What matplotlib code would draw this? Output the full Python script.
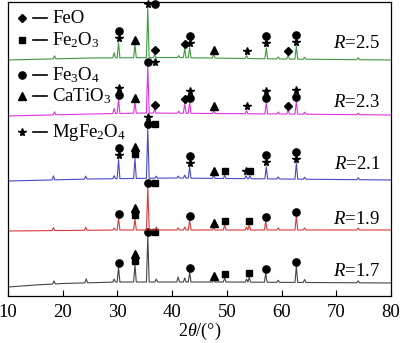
import numpy as np
import matplotlib
matplotlib.use('Agg')
import matplotlib.pyplot as plt

plt.rcParams['font.family'] = 'Liberation Serif'
plt.rcParams['mathtext.fontset'] = 'custom'
plt.rcParams['mathtext.rm'] = 'Liberation Serif'
plt.rcParams['mathtext.it'] = 'Liberation Serif:italic'

# background level of each pattern (2theta, offset intensity)
r17_bg_x = [10, 15, 20, 30, 50, 80]
r17_bg_y = [9, 11, 12.5, 14, 14, 13]
r19_bg_x = [10, 30, 80]
r19_bg_y = [65, 66, 66]
r21_bg_x = [10, 25, 40, 60, 80]
r21_bg_y = [115, 117, 118, 117, 116]
r23_bg_x = [10, 25, 35, 60, 80]
r23_bg_y = [180, 182, 183, 182, 181]
r25_bg_x = [10, 25, 40, 60, 80]
r25_bg_y = [236, 238, 238.5, 237, 236]

# peak positions and heights above background
r17_pk = [18.4, 24.3, 29.4, 30.2, 33.2, 35.55, 37.1, 41.1, 42.3, 43.2, 47.6, 49.6, 53.6, 54.1, 57.1, 59.4, 62.7, 64.2, 74.0]
r17_h = [3, 4, 3, 15, 17, 46, 3, 5, 4, 10, 2, 4, 3, 5, 9, 2, 16, 3, 2]
r19_pk = [18.3, 24.2, 29.4, 30.2, 33.2, 35.55, 37.1, 41.1, 42.3, 43.2, 47.6, 49.6, 53.6, 54.1, 57.1, 59.4, 62.7, 64.2, 74.0]
r19_h = [3, 3, 2, 12, 11, 43, 3, 2, 3, 10, 3, 5, 3, 5, 9, 2, 14, 2, 2]
r21_pk = [18.3, 24.2, 29.4, 30.2, 33.2, 35.55, 37.1, 41.1, 42.3, 43.2, 47.6, 49.6, 53.5, 54.2, 57.2, 59.4, 62.7, 64.2, 74.0]
r21_h = [4, 3, 3, 19, 20, 50, 2, 2, 3, 11, 3, 3, 3, 3, 12, 2, 16, 2, 2]
r23_pk = [18.5, 29.4, 30.2, 33.2, 35.55, 36.8, 41.2, 42.3, 43.2, 47.6, 53.6, 57.2, 59.4, 61.2, 62.7, 64.2, 74.0]
r23_h = [3, 5, 14, 11, 47, 4, 2, 10, 11, 3, 3, 11, 2, 4, 13, 2, 1.5]
r25_pk = [18.5, 29.4, 30.2, 33.2, 35.55, 36.8, 41.2, 42.3, 43.2, 47.6, 53.6, 57.2, 59.4, 61.2, 62.7, 64.2, 74.0]
r25_h = [3, 5, 15, 13, 49, 3, 2, 9, 10, 4, 3, 11, 2, 4, 13, 2, 2]

# phase marks: peak, stack (bottom to top), stack beside the peak
r17_marks = [(30.2, 'o', ''), (33.2, 's^', ''), (35.55, 'o', 's'), (43.2, 'o', ''), (47.6, '^', ''),
             (49.6, 's', ''), (54.1, 's', ''), (57.1, 'o', ''), (62.7, 'o', '')]
r19_marks = [(30.2, 'o', ''), (33.2, 's^', ''), (35.55, 'o', 's'), (43.2, 'o', ''), (47.6, '^', ''),
             (49.6, 's', ''), (54.1, 's', ''), (57.1, 'o', ''), (62.7, 'o', '')]
r21_marks = [(30.2, '*o', ''), (33.2, 's^', ''), (35.55, 'o*', 's'), (43.2, '*o', ''), (47.6, '^', ''),
             (49.6, 's', ''), (53.5, '*', ''), (54.2, 's', ''), (57.2, '*o', ''), (62.7, '*o', '')]
r23_marks = [(30.2, 'o*', ''), (33.2, '^', ''), (35.55, 'o', '*'), (36.8, 'D', ''), (42.3, 'D', ''),
             (43.2, 'o*', ''), (47.6, '^', ''), (53.6, '*', ''), (57.2, 'o*', ''), (61.2, 'D', ''), (62.7, 'o*', '')]
r25_marks = [(30.2, '*o', ''), (33.2, '^', ''), (35.55, '*', 'o'), (36.8, 'D', ''), (42.3, 'D', ''),
             (43.2, '*o', ''), (47.6, '^', ''), (53.6, '*', ''), (57.2, '*o', ''), (61.2, 'D', ''), (62.7, '*o', '')]

labels = ['1.7', '1.9', '2.1', '2.3', '2.5']
colors = ['#454545', '#d83a3a', '#4848c8', '#e030e0', '#3f9a3f']

samples = [
    (r17_bg_x, r17_bg_y, r17_pk, r17_h, r17_marks),
    (r19_bg_x, r19_bg_y, r19_pk, r19_h, r19_marks),
    (r21_bg_x, r21_bg_y, r21_pk, r21_h, r21_marks),
    (r23_bg_x, r23_bg_y, r23_pk, r23_h, r23_marks),
    (r25_bg_x, r25_bg_y, r25_pk, r25_h, r25_marks),
]
label_y = [272, 219, 164, 102, 43]  # pixel rows of the R= labels

msize = {'o': 5.2, 's': 4.0, '^': 5.2, 'D': 4.0, '*': 5.8}

fig = plt.figure(figsize=(4, 3.43), dpi=100)
ax = fig.add_axes([8 / 400, 1 - 296 / 343, 383 / 400, 294 / 343])

w = 0.25
for (bx, by, pk, ph, marks), col, lab, ly in zip(samples, colors, labels, label_y):
    xs = []
    ys = []
    for x0 in bx:
        if all(abs(x0 - p) > w for p in pk):
            xs.append(x0)
            ys.append(np.interp(x0, bx, by))
    for p, h in zip(pk, ph):
        b = np.interp(p, bx, by)
        xs += [p - w, p, p + w]
        ys += [np.interp(p - w, bx, by), b + h, np.interp(p + w, bx, by)]
    order = np.argsort(xs)
    ax.plot(np.array(xs)[order], np.array(ys)[order], color=col, lw=0.8)

    for p, stack, side in marks:
        i = int(np.argmin(np.abs(np.array(pk) - p)))
        top = np.interp(pk[i], bx, by) + ph[i]
        for k, m in enumerate(stack):
            ax.plot(p, top + 4.5 + 7 * k, marker=m, color='k', ms=msize[m], ls='none', clip_on=False)
        for k, m in enumerate(side):
            ax.plot(p + 1.35, top + 4.5 + 7 * k, marker=m, color='k', ms=msize[m], ls='none', clip_on=False)

    ax.text(0.972, (296 - ly) / 294, '$R$=' + lab, transform=ax.transAxes,
            ha='right', va='center', fontsize=13.5)

# legend drawn by hand
leg_sym = ['D', 's', 'o', '^', '*']
leg_txt = ['FeO', 'Fe$_2$O$_3$', 'Fe$_3$O$_4$', 'CaTiO$_3$', 'MgFe$_2$O$_4$']
leg_row = [18, 40, 75, 96, 132]
for m, t, r in zip(leg_sym, leg_txt, leg_row):
    fy = (296 - r) / 294
    ax.plot([(22 - 8) / 383], [fy], marker=m, color='k', ms=msize[m], ls='none',
            transform=ax.transAxes, clip_on=False)
    ax.plot([(33 - 8) / 383, (47 - 8) / 383], [fy, fy], color='k', lw=1.2,
            transform=ax.transAxes)
    ax.text((52 - 8) / 383, fy, t, transform=ax.transAxes, ha='left', va='center', fontsize=13.5)

ax.set_xlim(10, 80)
ax.set_ylim(0, 294)
ax.set_xticks([10, 20, 30, 40, 50, 60, 70, 80])
ax.set_yticks([])
ax.tick_params(axis='x', direction='in', length=4, width=0.8, labelsize=13.5, pad=6)
for s in ax.spines.values():
    s.set_linewidth(0.9)
ax.set_xlabel('$\\mathit{2\\theta}$/(°)', fontsize=13, labelpad=0)

fig.savefig('out.png', dpi=100)
